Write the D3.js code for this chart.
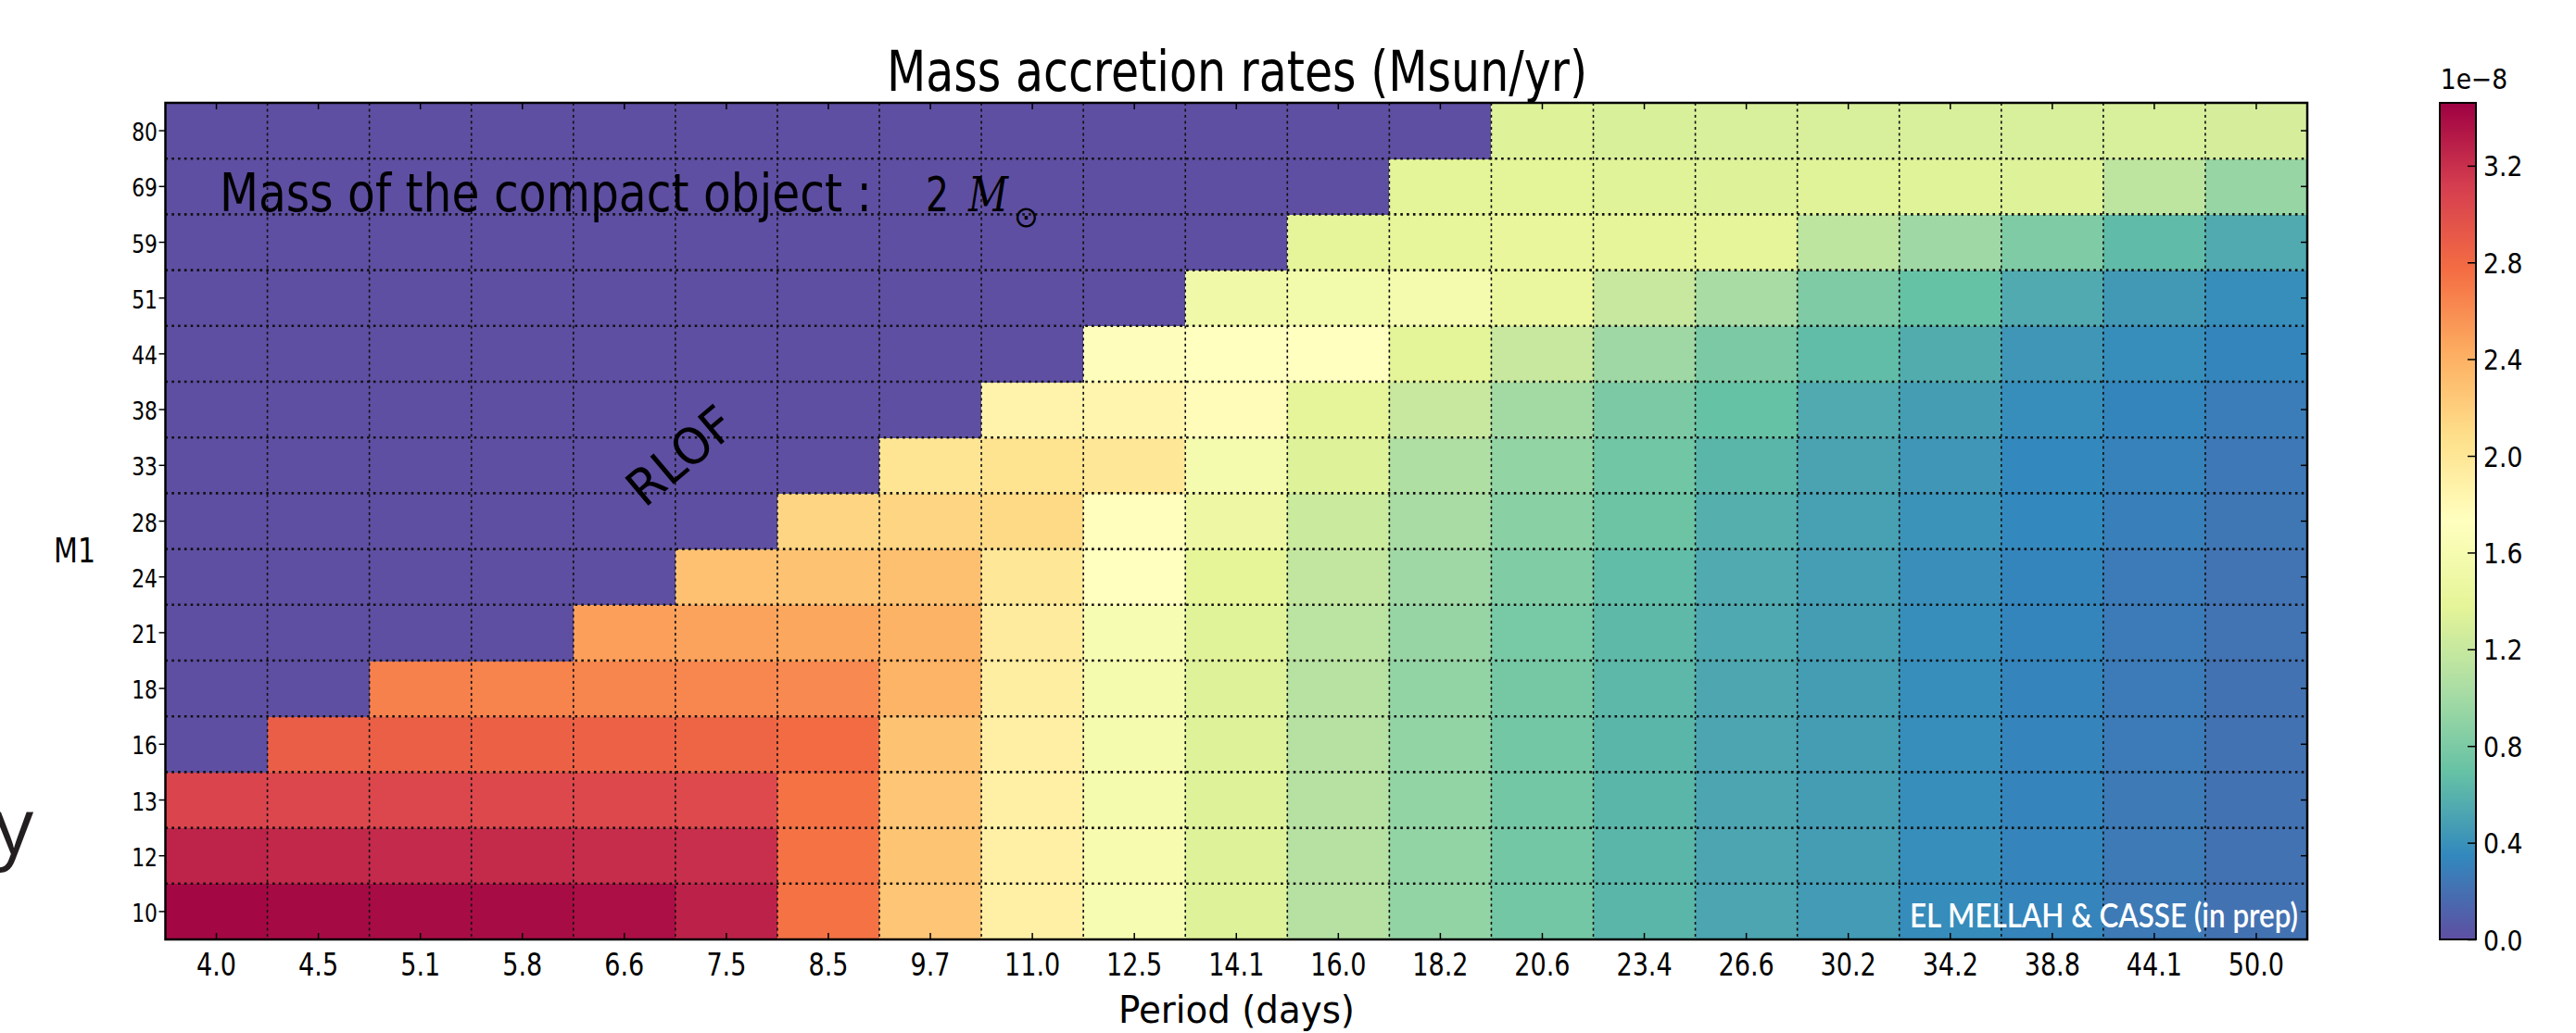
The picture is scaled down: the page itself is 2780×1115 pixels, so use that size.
<!DOCTYPE html>
<html>
<head>
<meta charset="utf-8">
<script src="https://cdn.jsdelivr.net/npm/d3@7"></script>
<style>
  html, body { margin: 0; padding: 0; background: #ffffff; }
  svg { display: block; }
</style>
</head>
<body>
<svg id="chart" width="2780" height="1115"></svg>
<script>
// ---------------- data ----------------
const periods = ["4.0","4.5","5.1","5.8","6.6","7.5","8.5","9.7","11.0","12.5","14.1",
                 "16.0","18.2","20.6","23.4","26.6","30.2","34.2","38.8","44.1","50.0"];
// M1 rows, bottom to top
const m1 = ["10","12","13","16","18","21","24","28","33","38","44","51","59","69","80"];

// mass accretion rates in units of 1e-8 Msun/yr (0 = RLOF region)
const rateM10 = [3.42,3.41,3.40,3.40,3.38,3.27,2.74,2.26,1.90,1.61,1.34,1.10,0.92,0.76,0.62,0.52,0.46,0.37,0.32,0.26,0.21];
const rateM12 = [3.26,3.24,3.23,3.22,3.21,3.20,2.74,2.27,1.90,1.60,1.34,1.10,0.92,0.76,0.62,0.52,0.47,0.38,0.32,0.26,0.21];
const rateM13 = [3.06,3.05,3.05,3.04,3.04,3.03,2.74,2.26,1.90,1.58,1.34,1.10,0.92,0.76,0.62,0.52,0.47,0.38,0.32,0.26,0.21];
const rateM16 = [0,2.88,2.87,2.86,2.85,2.83,2.78,2.28,1.91,1.58,1.34,1.10,0.92,0.76,0.62,0.52,0.47,0.38,0.32,0.27,0.21];
const rateM18 = [0,0,2.66,2.65,2.64,2.63,2.62,2.38,1.92,1.58,1.34,1.11,0.92,0.77,0.63,0.53,0.47,0.38,0.32,0.27,0.21];
const rateM21 = [0,0,0,0,2.50,2.48,2.46,2.39,1.95,1.62,1.35,1.13,0.94,0.78,0.64,0.54,0.47,0.38,0.33,0.27,0.22];
const rateM24 = [0,0,0,0,0,2.29,2.28,2.30,2.00,1.73,1.38,1.17,0.98,0.82,0.66,0.55,0.48,0.39,0.33,0.27,0.22];
const rateM28 = [0,0,0,0,0,0,2.15,2.15,2.12,1.74,1.49,1.22,1.03,0.87,0.72,0.58,0.49,0.41,0.35,0.29,0.24];
const rateM33 = [0,0,0,0,0,0,0,2.02,2.04,1.99,1.58,1.34,1.07,0.92,0.74,0.62,0.51,0.43,0.35,0.31,0.25];
const rateM38 = [0,0,0,0,0,0,0,0,1.87,1.84,1.77,1.40,1.20,1.00,0.80,0.69,0.55,0.47,0.38,0.33,0.28];
const rateM44 = [0,0,0,0,0,0,0,0,0,1.75,1.73,1.73,1.37,1.20,0.98,0.80,0.66,0.56,0.43,0.38,0.33];
const rateM51 = [0,0,0,0,0,0,0,0,0,0,1.52,1.55,1.58,1.44,1.20,1.03,0.81,0.69,0.55,0.45,0.38];
const rateM59 = [0,0,0,0,0,0,0,0,0,0,0,1.40,1.41,1.42,1.40,1.39,1.15,0.98,0.81,0.65,0.55];
const rateM69 = [0,0,0,0,0,0,0,0,0,0,0,0,1.37,1.37,1.35,1.34,1.35,1.35,1.34,1.15,0.94];
const rateM80 = [0,0,0,0,0,0,0,0,0,0,0,0,0,1.34,1.31,1.30,1.30,1.30,1.30,1.30,1.29];
const rates = [rateM10,rateM12,rateM13,rateM16,rateM18,rateM21,rateM24,rateM28,
               rateM33,rateM38,rateM44,rateM51,rateM59,rateM69,rateM80];

const colorbarTicks = [0.0,0.4,0.8,1.2,1.6,2.0,2.4,2.8,3.2];
const vmax = 3.46;
// matplotlib "Spectral" colour list (red -> purple); reversed for Spectral_r
const spectral = ["#9e0142","#d53e4f","#f46d43","#fdae61","#fee08b","#ffffbf",
                  "#e6f598","#abdda4","#66c2a5","#3288bd","#5e4fa2"];

// ---------------- layout ----------------
const FONT = "'DejaVu Sans', 'Liberation Sans', sans-serif";
const plot = { left: 178.5, right: 2490, top: 111, bottom: 1014 };
const cbar = { left: 2633, right: 2672, top: 111, bottom: 1014 };

const svg = d3.select("#chart");

const x = d3.scaleBand().domain(periods).range([plot.left, plot.right]).padding(0);
const y = d3.scaleBand().domain(m1).range([plot.bottom, plot.top]).padding(0);
const color = d3.scaleLinear()
  .domain(d3.range(spectral.length).map(i => vmax * i / (spectral.length - 1)))
  .range(spectral.slice().reverse())
  .interpolate(d3.interpolateRgb)
  .clamp(true);

// ---------------- cells ----------------
const cells = [];
rates.forEach((row, i) => row.forEach((v, j) => cells.push({ m: m1[i], p: periods[j], v })));

svg.append("g").selectAll("rect").data(cells).join("rect")
  .attr("x", d => x(d.p))
  .attr("y", d => y(d.m))
  .attr("width", x.bandwidth() + 0.6)
  .attr("height", y.bandwidth() + 0.6)
  .attr("fill", d => color(d.v))
  .attr("shape-rendering", "crispEdges");

// ---------------- grid at cell boundaries ----------------
const grid = svg.append("g");
grid.selectAll("line.v").data(periods.slice(1)).join("line")
  .attr("class", "v")
  .attr("x1", d => x(d)).attr("x2", d => x(d))
  .attr("y1", plot.top).attr("y2", plot.bottom)
  .attr("stroke", "#111").attr("stroke-width", 1.6)
  .attr("stroke-dasharray", "3,3.5");
grid.selectAll("line.h").data(m1.slice(0, -1)).join("line")
  .attr("class", "h")
  .attr("x1", plot.left).attr("x2", plot.right)
  .attr("y1", d => y(d)).attr("y2", d => y(d))
  .attr("stroke", "#111").attr("stroke-width", 2.6)
  .attr("stroke-dasharray", "2.6,4.2");

// ---------------- axes ----------------
const xAxis = svg.append("g")
  .attr("transform", `translate(0,${plot.bottom})`)
  .call(d3.axisBottom(x).tickSizeInner(-7).tickSizeOuter(0));
xAxis.select(".domain").remove();
xAxis.selectAll(".tick line").attr("stroke", "#000").attr("stroke-width", 1.5);
xAxis.selectAll(".tick text")
  .attr("y", 39).attr("dy", null)
  .attr("transform", "scale(0.82,1)")
  .attr("font-family", FONT).attr("font-size", 33).attr("fill", "#000");

const xTop = svg.append("g")
  .attr("transform", `translate(0,${plot.top})`)
  .call(d3.axisTop(x).tickSizeInner(-7).tickSizeOuter(0).tickFormat(""));
xTop.select(".domain").remove();
xTop.selectAll(".tick line").attr("stroke", "#000").attr("stroke-width", 1.5);

const yAxis = svg.append("g")
  .attr("transform", `translate(${plot.left},0)`)
  .call(d3.axisLeft(y).tickSizeInner(7).tickSizeOuter(0));
yAxis.select(".domain").remove();
yAxis.selectAll(".tick line").attr("stroke", "#000").attr("stroke-width", 1.5);
yAxis.selectAll(".tick text")
  .attr("x", -8.5 / 0.84).attr("y", 11).attr("dy", null)
  .attr("transform", "scale(0.84,1)")
  .attr("font-family", FONT).attr("font-size", 26).attr("fill", "#000");

const yRight = svg.append("g")
  .attr("transform", `translate(${plot.right},0)`)
  .call(d3.axisRight(y).tickSizeInner(-7).tickSizeOuter(0).tickFormat(""));
yRight.select(".domain").remove();
yRight.selectAll(".tick line").attr("stroke", "#000").attr("stroke-width", 1.5);

// frame
svg.append("rect")
  .attr("x", plot.left).attr("y", plot.top)
  .attr("width", plot.right - plot.left).attr("height", plot.bottom - plot.top)
  .attr("fill", "none").attr("stroke", "#000").attr("stroke-width", 2.5);

// ---------------- texts ----------------
function label(txt, opts) {
  const t = svg.append("text")
    .attr("x", opts.x).attr("y", opts.y)
    .attr("font-family", opts.family || FONT)
    .attr("font-size", opts.size)
    .attr("text-anchor", opts.anchor || "start")
    .attr("fill", opts.fill || "#000")
    .text(txt);
  if (opts.len) t.attr("textLength", opts.len).attr("lengthAdjust", "spacingAndGlyphs");
  if (opts.style) t.attr("font-style", opts.style);
  if (opts.weight) t.attr("font-weight", opts.weight);
  if (opts.transform) t.attr("transform", opts.transform);
  return t;
}

label("Mass accretion rates (Msun/yr)", { x: 1335, y: 98, size: 60, anchor: "middle", len: 756 });
label("Period (days)", { x: 1334.5, y: 1104, size: 40, anchor: "middle", len: 255 });
label("M1", { x: 80.5, y: 607, size: 37, anchor: "middle", len: 45 });
label("y", { x: 36, y: 922, size: 85, anchor: "end", family: "'Open Sans', 'DejaVu Sans', sans-serif", fill: "#231f20" });

// annotation inside the plot
label("Mass of the compact object :", { x: 237, y: 228, size: 57, len: 704 });
const massText = svg.append("text").attr("y", 228).attr("fill", "#000");
massText.append("tspan").attr("x", 999).attr("font-family", FONT).attr("font-size", 51)
  .attr("textLength", 25).attr("lengthAdjust", "spacingAndGlyphs").text("2");
massText.append("tspan").attr("x", 1045).attr("font-family", "'DejaVu Serif', 'Liberation Serif', serif")
  .attr("font-style", "italic").attr("font-size", 52)
  .attr("textLength", 43).attr("lengthAdjust", "spacingAndGlyphs").text("M");
massText.append("tspan").attr("x", 1094).attr("y", 245).attr("font-family", FONT).attr("font-size", 32)
  .text("\u2299");

label("RLOF", { x: 0, y: 0, size: 54, anchor: "middle", len: 132,
                transform: "translate(734,492) rotate(-40) translate(0,19)" });

label("EL MELLAH & CASSE (in prep)", { x: 2061, y: 1001, size: 36, len: 419,
      fill: "#ffffff", weight: 600, family: "Lato, 'Open Sans', sans-serif" });

// ---------------- colorbar ----------------
const defs = svg.append("defs");
const grad = defs.append("linearGradient").attr("id", "cbgrad")
  .attr("x1", 0).attr("y1", 1).attr("x2", 0).attr("y2", 0);
grad.selectAll("stop").data(d3.range(0, 1.0001, 0.02)).join("stop")
  .attr("offset", d => d)
  .attr("stop-color", d => color(d * vmax));

svg.append("rect")
  .attr("x", cbar.left).attr("y", cbar.top)
  .attr("width", cbar.right - cbar.left).attr("height", cbar.bottom - cbar.top)
  .attr("fill", "url(#cbgrad)");

const cb = d3.scaleLinear().domain([0, vmax]).range([cbar.bottom, cbar.top]);
const cbAxis = svg.append("g")
  .attr("transform", `translate(${cbar.right},0)`)
  .call(d3.axisRight(cb).tickValues(colorbarTicks).tickSizeInner(-9).tickSizeOuter(0)
        .tickFormat(d3.format(".1f")));
cbAxis.select(".domain").remove();
cbAxis.selectAll(".tick line").attr("stroke", "#000").attr("stroke-width", 1.5);
cbAxis.selectAll(".tick text")
  .attr("x", 8 / 0.86).attr("y", 11).attr("dy", null)
  .attr("transform", "scale(0.86,1)")
  .attr("font-family", FONT).attr("font-size", 31).attr("fill", "#000");

svg.append("rect")
  .attr("x", cbar.left).attr("y", cbar.top)
  .attr("width", cbar.right - cbar.left).attr("height", cbar.bottom - cbar.top)
  .attr("fill", "none").attr("stroke", "#000").attr("stroke-width", 2);

label("1e\u22128", { x: 2670 / 0.86, y: 96, size: 31, anchor: "middle", transform: "scale(0.86,1)" });
</script>
</body>
</html>
